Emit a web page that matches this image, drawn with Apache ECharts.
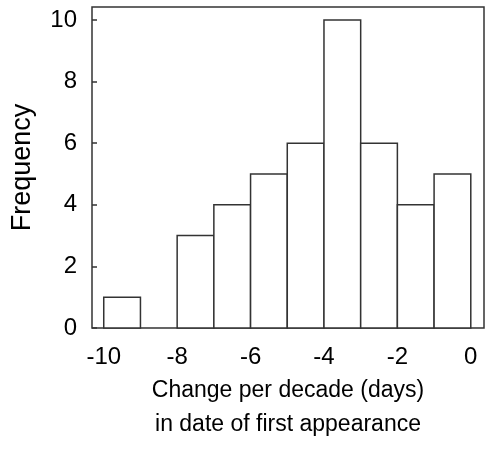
<!DOCTYPE html>
<html>
<head>
<meta charset="utf-8">
<script src="https://cdn.jsdelivr.net/npm/echarts@6/dist/echarts.min.js"></script>
<style>
  html, body { margin: 0; padding: 0; background: #fff; }
  #chart { width: 485px; height: 449px; }
</style>
</head>
<body>
<div id="chart"></div>
<script>
// histogram bins (days per decade) and how many species fall in each
const binStarts = [-10, -9, -8, -7, -6, -5, -4, -3, -2, -1]
const binEnds = [-9, -8, -7, -6, -5, -4, -3, -2, -1, 0]
const counts = [1, 0, 3, 4, 5, 6, 10, 6, 4, 5]
const xTicks = [-10, -8, -6, -4, -2, 0]
const yTicks = [0, 2, 4, 6, 8, 10]

const font = "'Liberation Sans', Arial, sans-serif"
const ink = '#333'
const textInk = '#000'

const data = binStarts.map((s, i) => [s, binEnds[i], counts[i]])

const chart = echarts.init(document.getElementById('chart'))
chart.setOption({
  animation: false,
  backgroundColor: '#fff',
  grid: {
    left: 92,
    top: 7,
    right: 1,
    bottom: 121,
    outerBoundsMode: 'none',
    show: true,
    borderColor: ink,
    borderWidth: 1.5,
    backgroundColor: 'transparent'
  },
  xAxis: {
    type: 'value',
    min: -10.32,
    max: 0.36,
    name: 'Change per decade (days)\nin date of first appearance',
    nameLocation: 'middle',
    nameGap: 43,
    nameTextStyle: { fontFamily: font, fontSize: 23, color: textInk, lineHeight: 34 },
    axisLine: { show: false, onZero: false },
    axisTick: { show: false },
    splitLine: { show: false },
    axisLabel: {
      customValues: xTicks,
      margin: 17,
      fontFamily: font,
      fontSize: 24,
      color: textInk
    }
  },
  yAxis: {
    type: 'value',
    min: 0,
    max: 10.42,
    name: 'Frequency',
    nameLocation: 'middle',
    nameGap: 56,
    nameTextStyle: { fontFamily: font, fontSize: 27, color: textInk },
    axisLine: { show: false, onZero: false },
    splitLine: { show: false },
    axisTick: {
      show: true,
      inside: true,
      length: 5,
      customValues: yTicks,
      lineStyle: { color: ink, width: 1.5 }
    },
    axisLabel: {
      customValues: yTicks,
      margin: 15,
      fontFamily: font,
      fontSize: 24,
      color: textInk
    }
  },
  series: [{
    type: 'custom',
    data: data,
    encode: { x: [0, 1], y: 2 },
    renderItem: function (params, api) {
      const x0 = api.value(0)
      const x1 = api.value(1)
      const y = api.value(2)
      if (!y) return null
      const p0 = api.coord([x0, y])
      const p1 = api.coord([x1, 0])
      return {
        type: 'rect',
        shape: { x: p0[0], y: p0[1], width: p1[0] - p0[0], height: p1[1] - p0[1] },
        style: { fill: '#fff', stroke: ink, lineWidth: 1.5 }
      }
    }
  }]
})
</script>
</body>
</html>
